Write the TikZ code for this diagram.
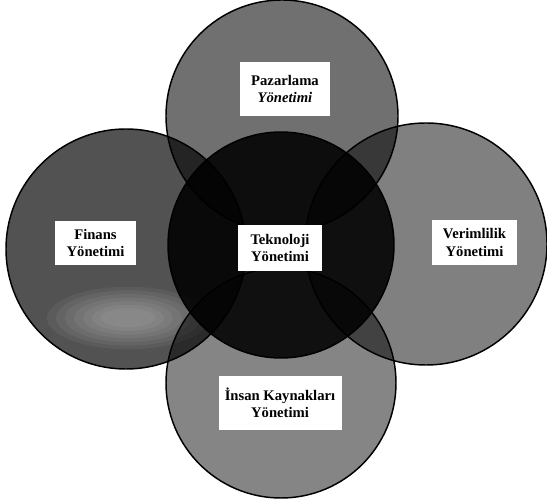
\documentclass[tikz,border=0pt]{standalone}
\usepackage{fontspec}
\setmainfont{Liberation Serif}
\usepackage{tikz}

\begin{document}
\begin{tikzpicture}[x=0.75pt, y=0.75pt,
			ring/.style={draw=black, line width=1.1pt},
			namebox/.style={fill=white, inner sep=0pt, align=center,
				font=\fontsize{11}{12.8}\selectfont\bfseries}]

			\useasboundingbox (0,0) rectangle (547,-502);

			% finance field first, with its pale lower patch
			\fill[black!68] (126,-249) circle (120);
			\begin{scope}
				\clip (126,-249) circle (120);
				\foreach \k in {1,...,7}
					\fill[white, opacity=0.055] (128,-318) ellipse ({18+9*\k} and {6+3.6*\k});
			\end{scope}

			% the other fields, darker where they overlap
			\begin{scope}[blend mode=multiply]
				\fill[black!50] (426,-244) circle (121);
				\fill[black!56] (282,-116) circle (116);
				\fill[black!48] (281,-383) circle (115);
				\fill[black!88] (281,-245) circle (113);
			\end{scope}

			\draw[ring] (126,-249) circle (120);
			\draw[ring] (426,-244) circle (121);
			\draw[ring] (282,-116) circle (116);
			\draw[ring] (281,-383) circle (115);
			\draw[ring] (281,-245) circle (113);

			\node (paz) [namebox, minimum width=67.5pt, minimum height=40.5pt] at (285,-89) {Pazarlama\\\textit{Yönetimi}};
			\node (fin) [namebox, minimum width=60.75pt, minimum height=33pt] at (95.5,-243) {Finans\\Yönetimi};
			\node (tek) [namebox, minimum width=63pt, minimum height=34.5pt] at (280,-248) {Teknoloji\\Yönetimi};
			\node (ver) [namebox, minimum width=63.75pt, minimum height=33.75pt] at (474.5,-242.5) {Verimlilik\\Yönetimi};
			\node (ins) [namebox, minimum width=92.25pt, minimum height=40.5pt] at (280,-403) {İnsan Kaynakları\\Yönetimi};
		\end{tikzpicture}
\end{document}
